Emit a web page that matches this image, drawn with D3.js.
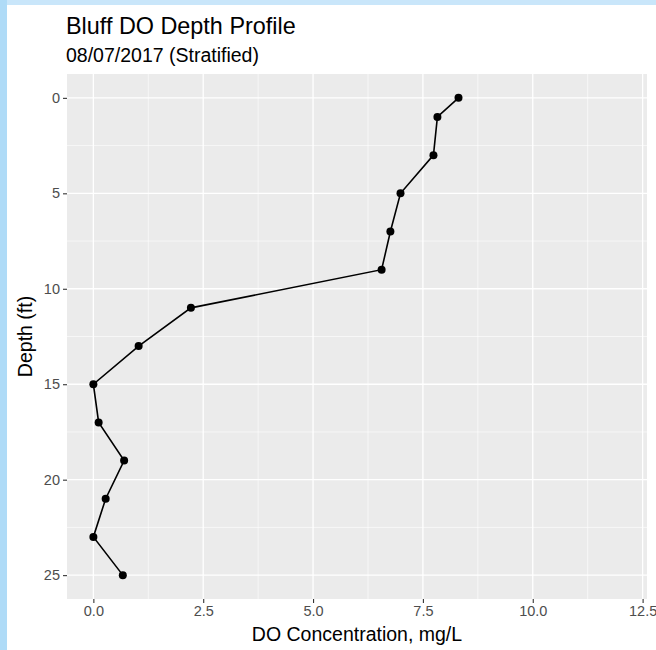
<!DOCTYPE html>
<html>
<head>
<meta charset="utf-8">
<script src="https://cdn.jsdelivr.net/npm/d3@7"></script>
<style>
  html, body { margin: 0; padding: 0; background: #fff; }
  svg { display: block; }
</style>
</head>
<body>
<svg id="chart" width="656" height="650"></svg>
<script>
// Data
const depth = [0, 1, 3, 5, 7, 9, 11, 13, 15, 17, 19, 21, 23, 25];
const doConc = [8.31, 7.83, 7.74, 6.99, 6.76, 6.56, 2.22, 1.03, 0.0, 0.12, 0.70, 0.28, 0.0, 0.67];
const xTicks = [0, 2.5, 5, 7.5, 10, 12.5];
const xTickLabels = ["0.0", "2.5", "5.0", "7.5", "10.0", "12.5"];
const yTicks = [0, 5, 10, 15, 20, 25];
const xMinor = [1.25, 3.75, 6.25, 8.75, 11.25];
const yMinor = [2.5, 7.5, 12.5, 17.5, 22.5];
const titleText = "Bluff DO Depth Profile";
const subtitleText = "08/07/2017 (Stratified)";
const xTitle = "DO Concentration, mg/L";
const yTitle = "Depth (ft)";

const svg = d3.select("#chart");
const font = "'Liberation Sans', Arial, Helvetica, sans-serif";

// Screenshot frame (light blue edges)
svg.append("rect").attr("x", 0).attr("y", 0).attr("width", 656).attr("height", 650).attr("fill", "#ffffff");
svg.append("rect").attr("x", 0).attr("y", 0).attr("width", 656).attr("height", 5).attr("fill", "#c9e6fa");
svg.append("rect").attr("x", 0).attr("y", 0).attr("width", 7).attr("height", 650).attr("fill", "#afdbf7");

const panel = { left: 67, right: 647, top: 74, bottom: 599 };

const x = d3.scaleLinear().domain([-0.6, 12.6]).range([panel.left, panel.right]);
const y = d3.scaleLinear().domain([-1.25, 26.25]).range([panel.top, panel.bottom]);

// Panel background
svg.append("rect")
  .attr("x", panel.left).attr("y", panel.top)
  .attr("width", panel.right - panel.left).attr("height", panel.bottom - panel.top)
  .attr("fill", "#EBEBEB");

const grid = svg.append("g");
// minor grid
grid.selectAll(".xminor").data(xMinor).enter().append("line")
  .attr("x1", d => x(d)).attr("x2", d => x(d))
  .attr("y1", panel.top).attr("y2", panel.bottom)
  .attr("stroke", "#fff").attr("stroke-width", 0.6);
grid.selectAll(".yminor").data(yMinor).enter().append("line")
  .attr("y1", d => y(d)).attr("y2", d => y(d))
  .attr("x1", panel.left).attr("x2", panel.right)
  .attr("stroke", "#fff").attr("stroke-width", 0.6);
// major grid
grid.selectAll(".xmajor").data(xTicks).enter().append("line")
  .attr("x1", d => x(d)).attr("x2", d => x(d))
  .attr("y1", panel.top).attr("y2", panel.bottom)
  .attr("stroke", "#fff").attr("stroke-width", 1.3);
grid.selectAll(".ymajor").data(yTicks).enter().append("line")
  .attr("y1", d => y(d)).attr("y2", d => y(d))
  .attr("x1", panel.left).attr("x2", panel.right)
  .attr("stroke", "#fff").attr("stroke-width", 1.3);

// Axes
const xAxis = d3.axisBottom(x).tickValues(xTicks)
  .tickFormat((d, i) => xTickLabels[i]).tickSize(4).tickPadding(3);
const gx = svg.append("g").attr("transform", `translate(0,${panel.bottom})`).call(xAxis);
gx.select(".domain").remove();
gx.selectAll(".tick line").attr("stroke", "#333333").attr("stroke-width", 1.1);
gx.selectAll(".tick text").attr("fill", "#4D4D4D").style("font-family", font).style("font-size", "14.5px");

const yAxis = d3.axisLeft(y).tickValues(yTicks).tickSize(4).tickPadding(3);
const gy = svg.append("g").attr("transform", `translate(${panel.left},0)`).call(yAxis);
gy.select(".domain").remove();
gy.selectAll(".tick line").attr("stroke", "#333333").attr("stroke-width", 1.1);
gy.selectAll(".tick text").attr("fill", "#4D4D4D").style("font-family", font).style("font-size", "14.5px");

// Line and points
const pts = depth.map((d, i) => ({ depth: d, v: doConc[i] }));
const line = d3.line().x(d => x(d.v)).y(d => y(d.depth));
svg.append("path").datum(pts)
  .attr("d", line).attr("fill", "none")
  .attr("stroke", "#000").attr("stroke-width", 1.6);
svg.selectAll(".pt").data(pts).enter().append("circle")
  .attr("cx", d => x(d.v)).attr("cy", d => y(d.depth))
  .attr("r", 4).attr("fill", "#000");

// Titles
svg.append("text").attr("x", panel.left - 1).attr("y", 33.5)
  .style("font-family", font).style("font-size", "23.4px").attr("fill", "#000")
  .text(titleText);
svg.append("text").attr("x", panel.left - 1).attr("y", 62)
  .style("font-family", font).style("font-size", "19.5px").attr("fill", "#000")
  .text(subtitleText);
svg.append("text").attr("x", (panel.left + panel.right) / 2).attr("y", 641)
  .attr("text-anchor", "middle")
  .style("font-family", font).style("font-size", "19.5px").attr("fill", "#000")
  .text(xTitle);
svg.append("text")
  .attr("transform", `translate(32,${(panel.top + panel.bottom) / 2}) rotate(-90)`)
  .attr("text-anchor", "middle")
  .style("font-family", font).style("font-size", "19.5px").attr("fill", "#000")
  .text(yTitle);
</script>
</body>
</html>
